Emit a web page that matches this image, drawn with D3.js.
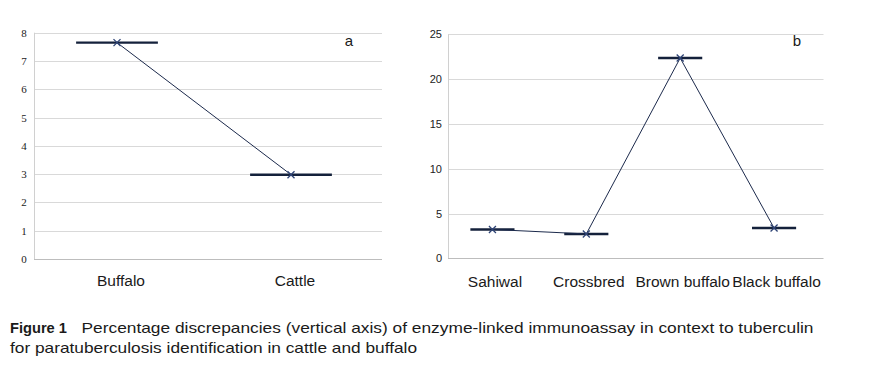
<!DOCTYPE html>
<html>
<head>
<meta charset="utf-8">
<script src="https://cdn.jsdelivr.net/npm/d3@7"></script>
<style>
body{margin:0;background:#fff}
svg{display:block}
.grid line{stroke:#d9d9d9;stroke-width:1}
.catLabel{font-family:"Liberation Sans",Arial,sans-serif;font-size:15.5px;fill:#1a1a1a}
.caption{font-family:"Liberation Sans",Arial,sans-serif;font-size:15px;fill:#1a1a1a}
</style>
</head>
<body>
<svg id="fig"></svg>
<script>
// panel a
var catsA = ["Buffalo","Cattle"]
var valsA = [7.65,2.98]
var ticksA = [0,1,2,3,4,5,6,7,8]
// panel b
var catsB = ["Sahiwal","Crossbred","Brown buffalo","Black buffalo"]
var valsB = [3.22,2.72,22.35,3.38]
var ticksB = [0,5,10,15,20,25]

var screen = {width:882,height:367}
var svg = d3.select("#fig")
    .attr("width",screen.width)
    .attr("height",screen.height)

svg.append("rect").attr("width",screen.width).attr("height",screen.height).attr("fill","#fff")

var drawPanel = function(p)
{
    var xScale = d3.scaleBand()
        .domain(p.cats)
        .range([p.left,p.right])
    var yScale = d3.scaleLinear()
        .domain([0,p.ticks[p.ticks.length-1]])
        .range([p.bottom,p.top])

    var g = svg.append("g")

    // gridlines
    g.append("g").classed("grid",true)
        .selectAll("line")
        .data(p.ticks.slice(1))
        .enter()
        .append("line")
        .attr("x1",p.left)
        .attr("x2",p.right)
        .attr("y1",function(d){return Math.round(yScale(d))+0.5})
        .attr("y2",function(d){return Math.round(yScale(d))+0.5})

    // left + bottom axis lines
    g.append("line")
        .attr("x1",p.left+0.5).attr("x2",p.left+0.5)
        .attr("y1",p.top).attr("y2",p.bottom)
        .attr("stroke","#d0d0d0")
    g.append("line")
        .attr("x1",p.left).attr("x2",p.right)
        .attr("y1",Math.round(p.bottom)+0.5).attr("y2",Math.round(p.bottom)+0.5)
        .attr("stroke","#bdbdbd")

    // y tick labels
    g.selectAll(".yt")
        .data(p.ticks)
        .enter()
        .append("text")
        .attr("class","yt")
        .text(function(d){return d})
        .attr("x",p.tickX)
        .attr("y",function(d){return yScale(d)+p.tickDy})
        .attr("text-anchor",p.tickAnchor)
        .style("font-family",p.tickFont)
        .style("font-size",p.tickSize)
        .attr("fill","#222")

    // category labels
    g.selectAll(".catLabel")
        .data(p.cats)
        .enter()
        .append("text")
        .attr("class","catLabel")
        .text(function(d){return d})
        .attr("x",function(d){return xScale(d)+xScale.bandwidth()/2})
        .attr("y",p.labelY)
        .attr("text-anchor","middle")

    var pts = p.cats.map(function(c,i){
        return {x:xScale(c)+xScale.bandwidth()/2+p.shift, y:yScale(p.vals[i])}
    })

    // dashes
    var half = xScale.bandwidth()*0.235
    g.selectAll(".dash")
        .data(pts)
        .enter()
        .append("line")
        .attr("x1",function(d){return d.x-half})
        .attr("x2",function(d){return d.x+half})
        .attr("y1",function(d){return d.y})
        .attr("y2",function(d){return d.y})
        .attr("stroke","#14213b")
        .attr("stroke-width",2.4)

    // connecting line
    g.append("path")
        .datum(pts)
        .attr("d",d3.line().x(function(d){return d.x}).y(function(d){return d.y}))
        .attr("fill","none")
        .attr("stroke","#1c2a4c")
        .attr("stroke-width",1)

    // x markers
    var m = 3.5
    g.selectAll(".mk")
        .data(pts)
        .enter()
        .append("path")
        .attr("d",function(d){
            return "M"+(d.x-m)+","+(d.y-m)+"L"+(d.x+m)+","+(d.y+m)+
                   "M"+(d.x-m)+","+(d.y+m)+"L"+(d.x+m)+","+(d.y-m)
        })
        .attr("stroke","#2f4476")
        .attr("stroke-width",1.3)
        .attr("fill","none")

    // panel letter
    g.append("text")
        .text(p.letter)
        .attr("x",p.letterX)
        .attr("y",46)
        .attr("text-anchor","middle")
        .style("font-family","Liberation Sans, Arial, sans-serif")
        .style("font-size","15px")
        .attr("fill","#1a1a1a")
}

drawPanel({cats:catsA,vals:valsA,ticks:ticksA,left:34,right:382,top:32.7,bottom:259,
    tickX:24,tickDy:4,tickAnchor:"middle",tickFont:"Liberation Serif, serif",tickSize:"11px",
    labelY:286,shift:-4,letter:"a",letterX:349})
drawPanel({cats:catsB,vals:valsB,ticks:ticksB,left:448,right:823.5,top:34.3,bottom:258.3,
    tickX:442,tickDy:4,tickAnchor:"end",tickFont:"Liberation Sans, Arial, sans-serif",tickSize:"11px",
    labelY:287,shift:-2.5,letter:"b",letterX:797})

// caption
var cap = svg.append("text").classed("caption",true).attr("y",333)
cap.append("tspan").attr("x",10).text("Figure 1").style("font-weight","bold")
    .attr("textLength",57).attr("lengthAdjust","spacingAndGlyphs")
cap.append("tspan").attr("x",81.5)
    .text("Percentage discrepancies (vertical axis) of enzyme-linked immunoassay in context to tuberculin")
    .attr("textLength",732).attr("lengthAdjust","spacingAndGlyphs")
svg.append("text").classed("caption",true).attr("x",10).attr("y",353)
    .text("for paratuberculosis identification in cattle and buffalo")
    .attr("textLength",407).attr("lengthAdjust","spacingAndGlyphs")
</script>
</body>
</html>
